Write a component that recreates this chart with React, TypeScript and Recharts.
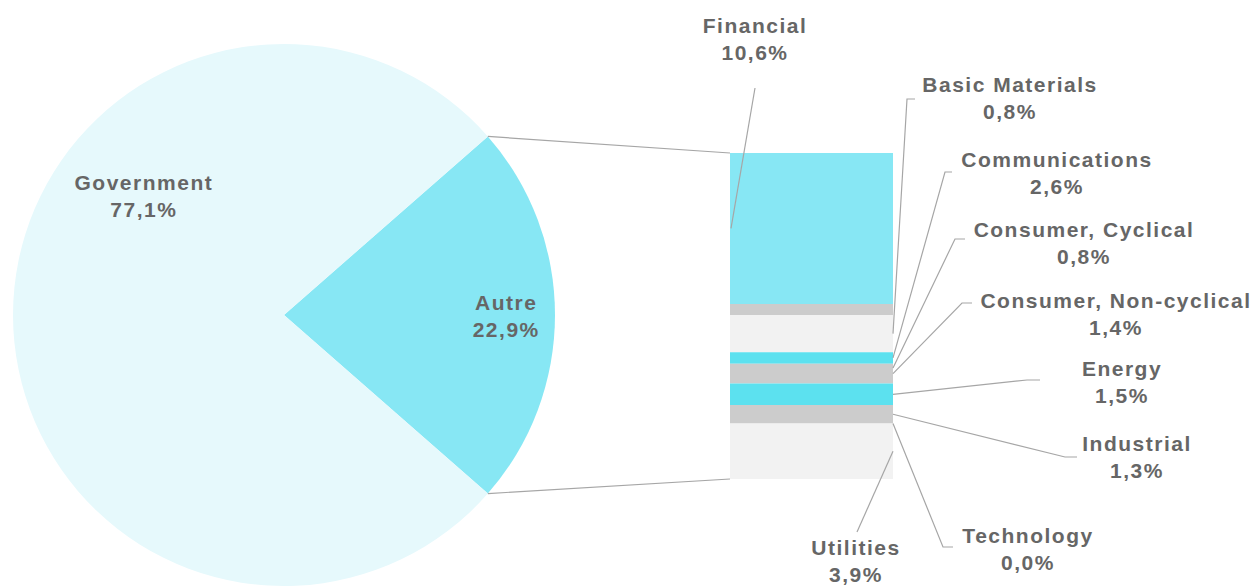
import { PieChart, Pie, Cell, BarChart, Bar, XAxis, YAxis } from "recharts";

const W = 1257;
const H = 586;

// primary pie
const PIE_NAMES = ["Autre", "Government"];
const PIE_VALUES = [22.9, 77.1];
const PIE_COLORS = ["#87e7f4", "#e6f9fc"];

// breakdown of "Autre" (stacked bar, top to bottom)
const SECTORS = [
  "Financial",
  "Basic Materials",
  "Communications",
  "Consumer, Cyclical",
  "Consumer, Non-cyclical",
  "Energy",
  "Industrial",
  "Technology",
  "Utilities",
];
const SECTOR_VALUES = [10.6, 0.8, 2.6, 0.8, 1.4, 1.5, 1.3, 0.0, 3.9];
const SECTOR_COLORS = [
  "#87e7f4", "#cccccc", "#f2f2f2", "#5ce1ef", "#cccccc",
  "#5ce1ef", "#cccccc", "#cccccc", "#f2f2f2",
];

// layout
const CHART_MARGIN = 5; // recharts default margin around the pie chart
const PIE_CX = 284;
const PIE_CY = 315;
const PIE_R = 271;
const BAR_LEFT = 730;
const BAR_RIGHT = 893;
const BAR_TOP = 153;
const BAR_BOTTOM = 479;

const TEXT = "#666666";
const LINE = "#a6a6a6";
const FONT = "'Liberation Sans', Arial, sans-serif";

// label placement for the bar segments (page px): text centre / first baseline,
// leader start (sx, sy), optional elbow end ex, attach side, extra y shift on bar
const LABEL_LAYOUT = [
  { cx: 755, y: 33, sx: 755, sy: 88, side: "left", dy: 0 },
  { cx: 1010, y: 92, sx: 907, sy: 99, ex: 915, side: "right", dy: 24 },
  { cx: 1057, y: 167, sx: 945, sy: 172, ex: 952, side: "right", dy: 24 },
  { cx: 1084, y: 237, sx: 955, sy: 239, ex: 965, side: "right", dy: 10 },
  { cx: 1116, y: 308, sx: 962, sy: 303, ex: 972, side: "right", dy: 0 },
  { cx: 1122, y: 376, sx: 1027, sy: 380, ex: 1040, side: "right", dy: 0 },
  { cx: 1137, y: 451, sx: 1065, sy: 457, ex: 1077, side: "right", dy: 0 },
  { cx: 1028, y: 543, sx: 943, sy: 547, ex: 953, side: "right", dy: 0 },
  { cx: 856, y: 555, sx: 857, sy: 532, side: "right", dy: 0 },
];

// pie label placement: angle (deg) and radius fraction
const PIE_LABEL_POS = [
  { angle: 0, r: 0.82 },
  { angle: 139.5, r: 0.68 },
];

const fmt = (v: number) => `${v.toFixed(1).replace(".", ",")}%`;

const total = SECTOR_VALUES.reduce((a, b) => a + b, 0);
const barRow: Record<string, number | string> = { name: "Autre" };
SECTORS.forEach((s, i) => (barRow[s] = SECTOR_VALUES[i]));
const barData = [barRow];

const pieData = PIE_NAMES.map((name, i) => ({ name, value: PIE_VALUES[i] }));
const pieTotal = PIE_VALUES.reduce((a, b) => a + b, 0);
const autreAngle = (360 * PIE_VALUES[0]) / pieTotal;
const START = -autreAngle / 2;

function TwoLine({ x, y, a, b }: { x: number; y: number; a: string; b: string }) {
  return (
    <text
      x={x}
      y={y}
      textAnchor="middle"
      fill={TEXT}
      fontFamily={FONT}
      fontWeight="bold"
      fontSize={21}
      letterSpacing={1.5}
    >
      <tspan x={x} y={y}>{a}</tspan>
      <tspan x={x} y={y + 27}>{b}</tspan>
    </text>
  );
}

// eslint-disable-next-line @typescript-eslint/no-explicit-any
function renderPieLabel(props: any) {
  const { cx, cy, outerRadius, index } = props;
  const pos = PIE_LABEL_POS[index];
  const rad = (pos.angle * Math.PI) / 180;
  const x = cx + outerRadius * pos.r * Math.cos(rad);
  const y = cy - outerRadius * pos.r * Math.sin(rad);
  let connectors = null;
  if (index === 0) {
    const a1 = (START * Math.PI) / 180;
    const a2 = ((START + autreAngle) * Math.PI) / 180;
    connectors = (
      <g stroke={LINE} strokeWidth={1.2}>
        <line
          x1={cx + outerRadius * Math.cos(a2)}
          y1={cy - outerRadius * Math.sin(a2)}
          x2={BAR_LEFT}
          y2={BAR_TOP}
        />
        <line
          x1={cx + outerRadius * Math.cos(a1)}
          y1={cy - outerRadius * Math.sin(a1)}
          x2={BAR_LEFT}
          y2={BAR_BOTTOM}
        />
      </g>
    );
  }
  return (
    <g key={`pl-${index}`}>
      {connectors}
      <TwoLine x={x} y={y - 5} a={PIE_NAMES[index]} b={fmt(PIE_VALUES[index])} />
    </g>
  );
}

function leader(i: number, tx: number, ty: number) {
  const L = LABEL_LAYOUT[i];
  return (
    <g key={`sl-${i}`}>
      <polyline
        points={`${L.ex ?? L.sx},${L.sy} ${L.sx},${L.sy} ${tx},${ty + L.dy}`}
        fill="none"
        stroke={LINE}
        strokeWidth={1.2}
      />
      <TwoLine x={L.cx} y={L.y} a={SECTORS[i]} b={fmt(SECTOR_VALUES[i])} />
    </g>
  );
}

function segLabel(i: number) {
  // eslint-disable-next-line @typescript-eslint/no-explicit-any
  return (props: any) => {
    const vb = props.viewBox ?? props;
    const top = Math.min(vb.y, vb.y + vb.height);
    const bot = Math.max(vb.y, vb.y + vb.height);
    const side = LABEL_LAYOUT[i].side;
    const tx = side === "left" ? vb.x + 1 : vb.x + vb.width;
    // zero-valued segments that follow sit on this segment's lower edge
    const extra = [];
    for (let j = i + 1; j < SECTORS.length && SECTOR_VALUES[j] === 0; j++) {
      extra.push(leader(j, vb.x + vb.width, bot));
    }
    return (
      <g key={`sg-${i}`}>
        {leader(i, tx, (top + bot) / 2)}
        {extra}
      </g>
    );
  };
}

export default function App() {
  return (
    <div style={{ position: "absolute", left: 0, top: 0, width: W, height: H, background: "#fff" }}>
      <div style={{ position: "absolute", left: 0, top: 0 }}>
        <PieChart width={W} height={H}>
          <Pie
            data={pieData}
            dataKey="value"
            cx={PIE_CX - CHART_MARGIN}
            cy={PIE_CY - CHART_MARGIN}
            outerRadius={PIE_R}
            startAngle={START}
            endAngle={START + 360}
            stroke="none"
            label={renderPieLabel}
            labelLine={false}
            isAnimationActive={false}
          >
            {pieData.map((d, i) => (
              <Cell key={d.name} fill={PIE_COLORS[i]} />
            ))}
          </Pie>
        </PieChart>
      </div>
      <div style={{ position: "absolute", left: 0, top: 0 }}>
        <BarChart
          width={W}
          height={H}
          data={barData}
          margin={{ top: BAR_TOP, bottom: H - BAR_BOTTOM, left: BAR_LEFT, right: W - BAR_RIGHT }}
          barCategoryGap={0}
          barGap={0}
        >
          <XAxis dataKey="name" hide />
          <YAxis hide reversed domain={[0, total]} />
          {SECTORS.map((s, i) => (
            <Bar
              key={s}
              dataKey={s}
              stackId="a"
              fill={SECTOR_COLORS[i]}
              label={SECTOR_VALUES[i] === 0 ? false : segLabel(i)}
              isAnimationActive={false}
            />
          ))}
        </BarChart>
      </div>
    </div>
  );
}
